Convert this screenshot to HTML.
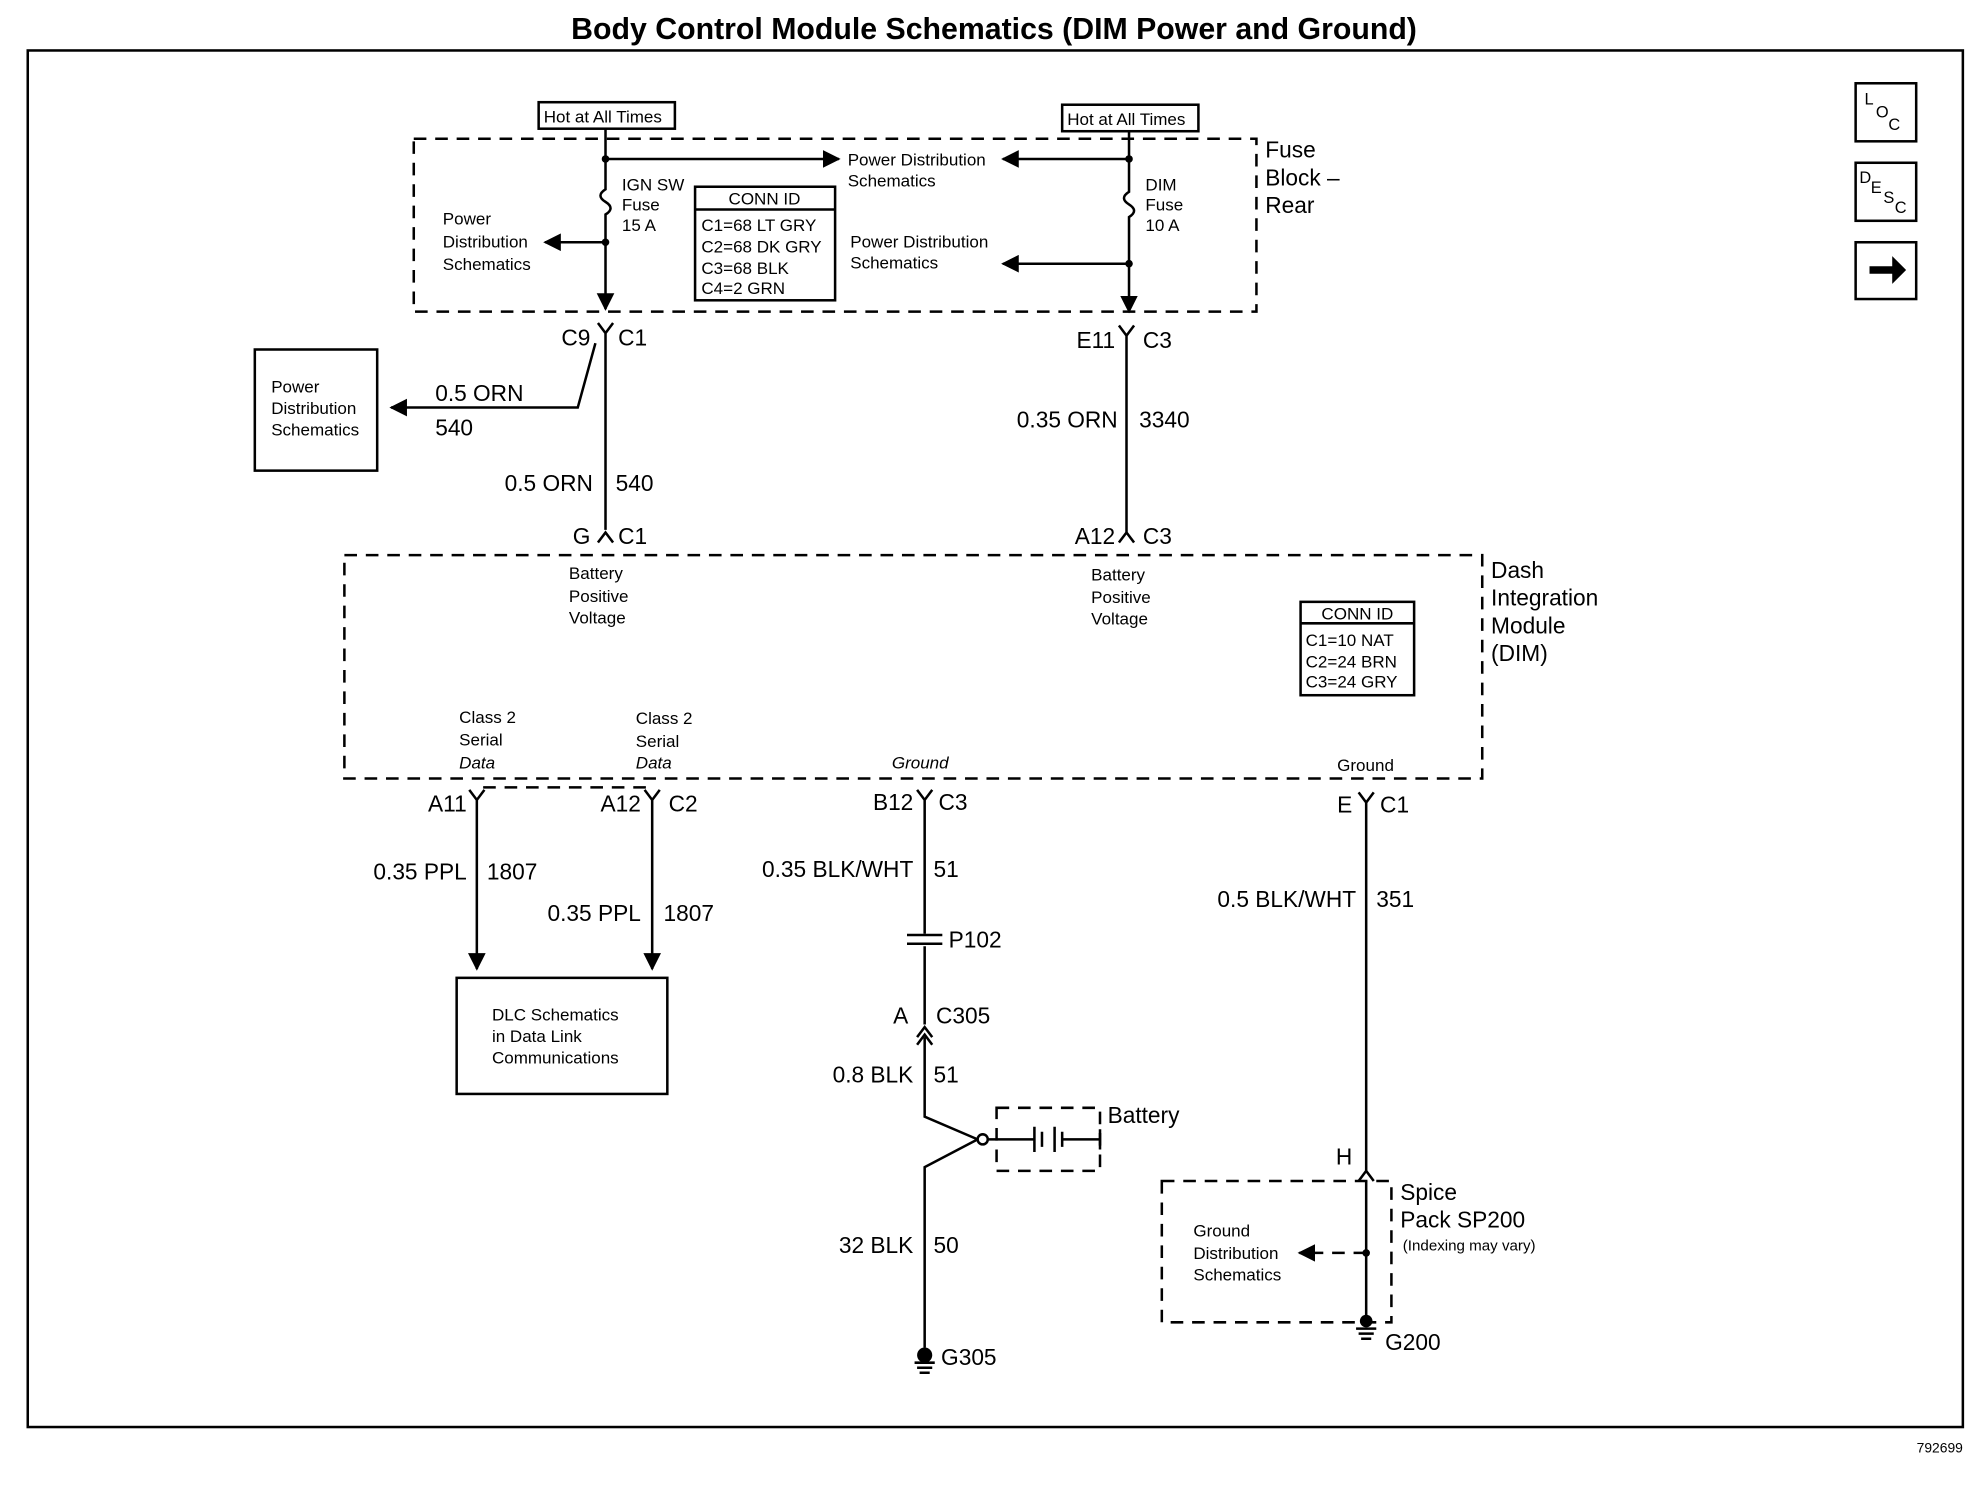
<!DOCTYPE html>
<html><head><meta charset="utf-8"><style>
html,body{margin:0;padding:0;background:#fff;}
svg{display:block;}
text{font-family:"Liberation Sans",Arial,sans-serif;fill:#000;}
.l{font-size:18px;}
.s{font-size:13.5px;}
.w{stroke:#000;stroke-width:2;fill:none;}
.d{stroke:#000;stroke-width:2;fill:none;stroke-dasharray:10 7;}
</style></head><body>
<svg width="1978" height="1504" viewBox="0 0 1568 1192" preserveAspectRatio="none" xmlns="http://www.w3.org/2000/svg">
<defs>
<marker id="a" viewBox="0 0 10 10" refX="9" refY="5" markerWidth="7" markerHeight="7" orient="auto-start-reverse"><path d="M0,0L10,5L0,10z" fill="#000"/></marker>
</defs>
<rect width="1568" height="1192" fill="#fff"/>
<text x="788" y="31" text-anchor="middle" style="font-size:24px;font-weight:bold">Body Control Module Schematics (DIM Power and Ground)</text>
<rect x="22" y="40" width="1534" height="1091" class="w" stroke-width="1.5"/>
<text x="1556" y="1151" text-anchor="end" style="font-size:11px">792699</text>
<rect x="1471" y="66" width="48" height="46" class="w" stroke-width="2.5"/>
<text x="1478" y="83" style="font-size:13px">L</text><text x="1487" y="93" style="font-size:13px">O</text><text x="1497" y="103" style="font-size:13px">C</text>
<rect x="1471" y="129" width="48" height="46" class="w" stroke-width="2.5"/>
<text x="1474" y="145" style="font-size:13px">D</text><text x="1483" y="153" style="font-size:13px">E</text><text x="1493" y="161" style="font-size:13px">S</text><text x="1502" y="169" style="font-size:13px">C</text>
<rect x="1471" y="192" width="48" height="45" class="w" stroke-width="2.5"/>
<path d="M1482,211h18v-8l11,11l-11,11v-8h-18z" fill="#000"/>
<rect x="328" y="110" width="668" height="137" class="d"/>
<rect x="427" y="81" width="108" height="21" class="w" stroke-width="1.5"/>
<text x="431" y="97" class="s">Hot at All Times</text>
<rect x="842" y="83" width="108" height="21" class="w" stroke-width="1.5"/>
<text x="846" y="99" class="s">Hot at All Times</text>
<path class="w" d="M480,102V150 q-8,5 0,10 q8,5 0,10V245" marker-end="url(#a)"/>
<circle cx="480" cy="126" r="3"/><circle cx="480" cy="192" r="3"/>
<path class="w" d="M480,126H665" marker-end="url(#a)"/>
<path class="w" d="M480,192H432" marker-end="url(#a)"/>
<text x="493" y="151" class="s">IGN SW</text><text x="493" y="167" class="s">Fuse</text><text x="493" y="183" class="s">15 A</text>
<text x="672" y="131" class="s">Power Distribution</text><text x="672" y="148" class="s">Schematics</text>
<text x="351" y="178" class="s">Power</text><text x="351" y="196" class="s">Distribution</text><text x="351" y="214" class="s">Schematics</text>
<rect x="551" y="148" width="111" height="90" class="w"/>
<line x1="551" y1="166" x2="662" y2="166" class="w"/>
<text x="606" y="162" text-anchor="middle" class="s">CONN ID</text>
<text x="556" y="183" class="s">C1=68 LT GRY</text><text x="556" y="200" class="s">C2=68 DK GRY</text><text x="556" y="217" class="s">C3=68 BLK</text><text x="556" y="233" class="s">C4=2 GRN</text>
<path class="w" d="M895,104V152 q-8,5 0,10 q8,5 0,10V247" marker-end="url(#a)"/>
<circle cx="895" cy="126" r="3"/><circle cx="895" cy="209" r="3"/>
<path class="w" d="M895,126H795" marker-end="url(#a)"/>
<path class="w" d="M895,209H795" marker-end="url(#a)"/>
<text x="908" y="151" class="s">DIM</text><text x="908" y="167" class="s">Fuse</text><text x="908" y="183" class="s">10 A</text>
<text x="674" y="196" class="s">Power Distribution</text><text x="674" y="213" class="s">Schematics</text>
<text x="1003" y="125" class="l">Fuse</text><text x="1003" y="147" class="l">Block –</text><text x="1003" y="169" class="l">Rear</text>
<path class="w" d="M474,256 l6,8 l6,-8 M480,264V420"/>
<text x="468" y="274" text-anchor="end" class="l">C9</text><text x="490" y="274" class="l">C1</text>
<path class="w" d="M472,272L458,323H310" marker-end="url(#a)"/>
<rect x="202" y="277" width="97" height="96" class="w"/>
<text x="215" y="311" class="s">Power</text><text x="215" y="328" class="s">Distribution</text><text x="215" y="345" class="s">Schematics</text>
<text x="345" y="318" class="l">0.5 ORN</text><text x="345" y="345" class="l">540</text>
<text x="470" y="389" text-anchor="end" class="l">0.5 ORN</text><text x="488" y="389" class="l">540</text>
<path class="w" d="M474,430 l6,-8 l6,8"/>
<text x="468" y="431" text-anchor="end" class="l">G</text><text x="490" y="431" class="l">C1</text>
<path class="w" d="M887,258 l6,8 l6,-8 M893,266V422 M887,430 l6,-8 l6,8"/>
<text x="884" y="276" text-anchor="end" class="l">E11</text><text x="906" y="276" class="l">C3</text>
<text x="886" y="339" text-anchor="end" class="l">0.35 ORN</text><text x="903" y="339" class="l">3340</text>
<text x="884" y="431" text-anchor="end" class="l">A12</text><text x="906" y="431" class="l">C3</text>
<rect x="273" y="440" width="902" height="177" class="d"/>
<text x="451" y="459" class="s">Battery</text><text x="451" y="477" class="s">Positive</text><text x="451" y="494" class="s">Voltage</text>
<text x="865" y="460" class="s">Battery</text><text x="865" y="478" class="s">Positive</text><text x="865" y="495" class="s">Voltage</text>
<text x="1182" y="458" class="l">Dash</text><text x="1182" y="480" class="l">Integration</text><text x="1182" y="502" class="l">Module</text><text x="1182" y="524" class="l">(DIM)</text>
<rect x="1031" y="477" width="90" height="74" class="w"/>
<line x1="1031" y1="494" x2="1121" y2="494" class="w"/>
<text x="1076" y="491" text-anchor="middle" class="s">CONN ID</text>
<text x="1035" y="512" class="s">C1=10 NAT</text><text x="1035" y="529" class="s">C2=24 BRN</text><text x="1035" y="545" class="s">C3=24 GRY</text>
<text x="364" y="573" class="s">Class 2</text><text x="364" y="591" class="s">Serial</text><text x="364" y="609" class="s" font-style="italic">Data</text>
<text x="504" y="574" class="s">Class 2</text><text x="504" y="592" class="s">Serial</text><text x="504" y="609" class="s" font-style="italic">Data</text>
<text x="707" y="609" class="s" font-style="italic">Ground</text>
<text x="1060" y="611" class="s">Ground</text>
<path class="d" d="M383,624H515" stroke-width="1"/>
<path class="w" d="M372,626 l6,8 l6,-8 M378,634V768" marker-end="url(#a)"/>
<path class="w" d="M511,626 l6,8 l6,-8 M517,634V768" marker-end="url(#a)"/>
<text x="370" y="643" text-anchor="end" class="l">A11</text>
<text x="508" y="643" text-anchor="end" class="l">A12</text><text x="530" y="643" class="l">C2</text>
<text x="370" y="697" text-anchor="end" class="l">0.35 PPL</text><text x="386" y="697" class="l">1807</text>
<text x="508" y="730" text-anchor="end" class="l">0.35 PPL</text><text x="526" y="730" class="l">1807</text>
<rect x="362" y="775" width="167" height="92" class="w" stroke-width="2.5"/>
<text x="390" y="809" class="s">DLC Schematics</text><text x="390" y="826" class="s">in Data Link</text><text x="390" y="843" class="s">Communications</text>
<path class="w" d="M727,626 l6,8 l6,-8 M733,634V740 M733,750V812 M727,822 l6,-8 l6,8 M727,828 l6,-8 l6,8 M733,822V885L775,903 M775,903L733,925V1068"/>
<line x1="719" y1="741" x2="747" y2="741" class="w"/><line x1="719" y1="748" x2="747" y2="748" class="w"/>
<circle cx="779" cy="903" r="4" fill="#fff" stroke="#000" stroke-width="2"/>
<text x="724" y="642" text-anchor="end" class="l">B12</text><text x="744" y="642" class="l">C3</text>
<text x="724" y="695" text-anchor="end" class="l">0.35 BLK/WHT</text><text x="740" y="695" class="l">51</text>
<text x="752" y="751" class="l">P102</text>
<text x="720" y="811" text-anchor="end" class="l">A</text><text x="742" y="811" class="l">C305</text>
<text x="724" y="858" text-anchor="end" class="l">0.8 BLK</text><text x="740" y="858" class="l">51</text>
<rect x="790" y="878" width="82" height="50" class="d"/>
<path class="w" d="M783,903H820 M820,893V913 M826,897V909 M836,893V913 M842,897V909 M842,903H872 M872,895V911"/>
<text x="878" y="890" class="l">Battery</text>
<text x="724" y="993" text-anchor="end" class="l">32 BLK</text><text x="740" y="993" class="l">50</text>
<circle cx="733" cy="1074" r="6"/><path class="w" d="M725,1080h16M727,1084h12M729,1088h8" stroke-width="1.5"/>
<text x="746" y="1082" class="l">G305</text>
<path class="w" d="M1077,628 l6,8 l6,-8 M1083,636V928 M1077,936 l6,-8 l6,8 M1083,936V1043"/>
<text x="1072" y="644" text-anchor="end" class="l">E</text><text x="1094" y="644" class="l">C1</text>
<text x="1075" y="719" text-anchor="end" class="l">0.5 BLK/WHT</text><text x="1091" y="719" class="l">351</text>
<text x="1072" y="923" text-anchor="end" class="l">H</text>
<rect x="921" y="936" width="182" height="112" class="d"/>
<circle cx="1083" cy="993" r="3"/>
<path class="d" d="M1083,993H1030" stroke-dasharray="6 5" marker-end="url(#a)"/>
<text x="946" y="980" class="s">Ground</text><text x="946" y="998" class="s">Distribution</text><text x="946" y="1015" class="s">Schematics</text>
<circle cx="1083" cy="1047" r="5"/><path class="w" d="M1075,1053h16M1077,1057h12M1079,1061h8" stroke-width="1.5"/>
<text x="1098" y="1070" class="l">G200</text>
<text x="1110" y="951" class="l">Spice</text><text x="1110" y="973" class="l">Pack SP200</text>
<text x="1112" y="991" style="font-size:12px">(Indexing may vary)</text>
</svg>
</body></html>
